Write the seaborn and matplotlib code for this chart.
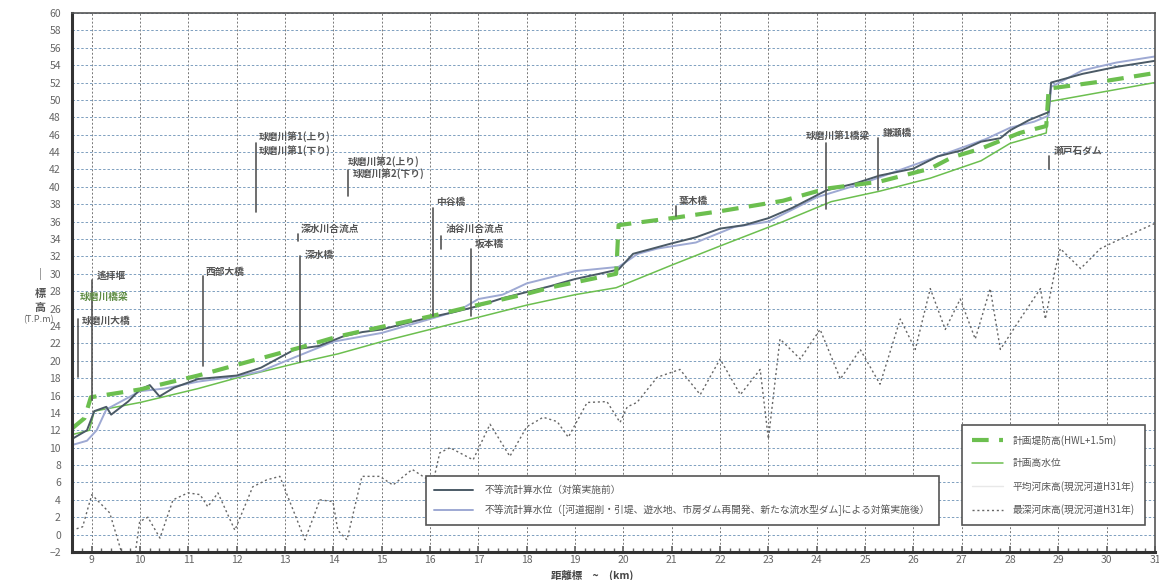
import numpy as np
import pandas as pd
import seaborn as sns
import matplotlib.pyplot as plt
from matplotlib.lines import Line2D
from matplotlib.ticker import MultipleLocator

# 計画堤防高 (HWL+1.5m)
levee_km = [8.59, 8.85, 8.98, 10.0, 11.2, 12.05, 13.3, 14.1, 15.0, 16.0, 16.9, 18.0, 18.55, 19.85,
            19.9, 21.0, 22.0, 23.3, 24.2, 25.3, 26.35, 26.8, 27.4, 28.2, 28.75, 28.8, 30.0, 31.0]
levee_h = [12.2, 13.4, 15.8, 16.7, 18.3, 19.6, 21.5, 22.8, 23.9, 25.1, 26.3, 27.7, 28.5, 30.0,
           35.6, 36.4, 37.2, 38.4, 39.8, 40.6, 42.1, 43.4, 44.4, 46.2, 47.0, 51.3, 52.2, 53.1]

# 計画高水位
hwl_km = [8.59, 8.95, 9.05, 10.0, 11.2, 12.05, 13.3, 14.1, 15.0, 16.0, 17.0, 18.0, 19.0, 19.85,
          21.0, 22.0, 23.3, 24.3, 25.3, 26.35, 27.4, 28.0, 28.75, 28.8, 30.0, 31.0]
hwl_h = [11.5, 12.0, 14.2, 15.2, 16.8, 18.1, 19.8, 20.8, 22.2, 23.6, 25.0, 26.4, 27.6, 28.4,
         31.0, 33.2, 36.0, 38.3, 39.5, 41.0, 43.0, 45.0, 46.2, 49.8, 51.0, 52.0]

# 不等流計算水位（対策実施前）
before_km = [8.59, 8.9, 9.05, 9.3, 9.4, 9.75, 10.0, 10.2, 10.4, 10.7, 11.2, 12.0, 12.5, 13.2, 13.7,
             14.2, 14.6, 15.0, 15.5, 16.0, 16.5, 17.0, 17.5, 18.0, 18.5, 19.0, 19.5, 19.9, 20.2,
             21.0, 21.5, 22.0, 22.5, 23.0, 23.5, 24.2, 24.8, 25.3, 26.0, 26.5, 27.0, 27.4, 27.8,
             28.0, 28.4, 28.8, 28.85, 29.5, 30.2, 31.0]
before_h = [11.0, 12.0, 14.2, 14.7, 13.8, 15.3, 16.7, 17.2, 15.9, 16.9, 17.9, 18.3, 19.2, 21.3, 21.7,
            22.8, 23.3, 23.6, 24.3, 25.0, 25.6, 26.3, 27.2, 27.9, 28.6, 29.4, 30.0, 30.5, 32.3,
            33.5, 34.2, 35.2, 35.6, 36.4, 37.6, 39.6, 40.4, 41.3, 42.1, 43.5, 44.2, 45.2, 45.6,
            46.5, 47.7, 48.6, 52.0, 53.0, 53.8, 54.5]

# 不等流計算水位（対策実施後）
after_km = [8.59, 8.9, 9.1, 9.3, 10.0, 10.5, 11.2, 12.0, 12.5, 13.2, 14.0, 15.0, 16.0, 16.6, 17.0,
            17.5, 18.0, 19.0, 19.9, 20.3, 20.7, 21.5, 22.3, 23.0, 24.0, 25.0, 26.0, 27.0, 27.5,
            28.0, 28.5, 28.8, 28.85, 29.5, 30.2, 31.0]
after_h = [10.3, 10.8, 12.0, 14.4, 16.5, 16.8, 17.6, 18.2, 18.8, 20.4, 22.2, 23.2, 24.8, 25.8, 27.1,
           27.6, 28.9, 30.3, 30.8, 32.3, 32.9, 33.6, 35.4, 36.0, 38.8, 40.5, 42.5, 44.5, 45.5,
           46.8, 47.5, 48.2, 51.5, 53.4, 54.3, 55.0]

# 最深河床高（現況河道H31年）
bed_km = [8.59, 8.81, 9.0, 9.37, 9.64, 9.89, 9.99, 10.16, 10.41, 10.68, 10.99, 11.24, 11.4, 11.61,
          11.96, 12.33, 12.62, 12.89, 13.41, 13.72, 13.99, 14.09, 14.28, 14.59, 14.96, 15.23, 15.63,
          15.85, 16.06, 16.2, 16.41, 16.89, 17.24, 17.65, 18.0, 18.34, 18.63, 18.86, 19.25, 19.66,
          19.93, 20.08, 20.28, 20.7, 21.17, 21.59, 22.0, 22.42, 22.83, 23.0, 23.24, 23.66, 24.07,
          24.49, 24.9, 25.31, 25.73, 26.04, 26.35, 26.66, 26.97, 27.28, 27.59, 27.8, 28.21, 28.63,
          28.73, 28.94, 29.04, 29.46, 29.87, 30.28, 31.0]
bed_h = [0.5, 0.9, 4.6, 2.5, -2.5, -2.5, 1.5, 2.0, -0.4, 4.0, 4.8, 4.6, 3.2, 4.8,
         0.5, 5.5, 6.3, 6.7, -0.6, 4.0, 3.8, 0.5, -0.6, 6.7, 6.7, 5.7, 7.5,
         6.7, 6.0, 9.4, 10.0, 8.6, 12.7, 9.0, 12.4, 13.5, 13.0, 11.2, 15.2, 15.3,
         12.9, 14.7, 15.2, 18.1, 19.0, 16.1, 20.2, 16.1, 19.0, 11.0, 22.5, 20.2, 23.6,
         17.9, 21.3, 17.3, 24.8, 21.3, 28.3, 23.6, 27.1, 22.5, 28.3, 21.3, 24.8, 28.3,
         24.8, 30.6, 32.9, 30.6, 32.9, 34.0, 35.8]

# 地点名: (名前, km, 線の上端, 線の下端, 文字x, 文字y)
sites = [
    ("球磨川大橋", 8.71, 24.8, 18.1, 8.80, 24.6),
    ("遙拝堰", 9.00, 29.3, 15.5, 9.10, 29.8),
    ("西部大橋", 11.30, 29.8, 19.4, 11.36, 30.2),
    ("深水橋", 13.31, 32.0, 19.9, 13.40, 32.2),
    ("深水川合流点", 13.27, 34.6, 33.8, 13.33, 35.2),
    ("球磨川第1(上り)", 12.40, 45.0, 37.1, 12.45, 45.8),
    ("球磨川第1(下り)", 12.40, 45.0, 45.0, 12.45, 44.2),
    ("球磨川第2(上り)", 14.30, 41.9, 38.9, 14.30, 42.9),
    ("球磨川第2(下り)", 14.30, 41.9, 41.9, 14.40, 41.5),
    ("中谷橋", 16.06, 37.6, 25.1, 16.12, 38.3),
    ("油谷川合流点", 16.22, 34.3, 32.9, 16.32, 35.2),
    ("坂本橋", 16.85, 32.9, 25.1, 16.92, 33.5),
    ("葉木橋", 21.09, 37.8, 36.6, 21.15, 38.4),
    ("球磨川第1橋梁", 24.20, 45.0, 37.5, 23.78, 45.9),
    ("鎌瀬橋", 25.27, 45.6, 39.6, 25.37, 46.2),
    ("瀬戸石ダム", 28.81, 43.6, 42.1, 28.90, 44.2),
]

sns.set_theme(style="white")
plt.rcParams['font.family'] = ['Noto Sans CJK JP', 'DejaVu Sans']

fig = plt.figure(figsize=(11.59, 5.8), dpi=100)
ax = fig.add_axes([72 / 1159, 28 / 580, 1083 / 1159, 539 / 580])

green = '#6cbf4f'
dark = '#4b5a66'
light = '#9ea9d3'

sns.lineplot(x=bed_km, y=bed_h, ax=ax, color='#666666', linewidth=1.0, linestyle=(0, (1.5, 2)),
             estimator=None, sort=False)
sns.lineplot(x=hwl_km, y=hwl_h, ax=ax, color=green, linewidth=1.1, estimator=None, sort=False)
sns.lineplot(x=after_km, y=after_h, ax=ax, color=light, linewidth=1.4, estimator=None, sort=False)
sns.lineplot(x=before_km, y=before_h, ax=ax, color=dark, linewidth=1.4, estimator=None, sort=False)
sns.lineplot(x=levee_km, y=levee_h, ax=ax, color=green, linewidth=3.0, linestyle=(0, (4, 2.5)),
             estimator=None, sort=False)

# 地点
for name, km, top, bot, tx, ty in sites:
    if top != bot:
        ax.plot([km, km], [bot, top], color='#555555', linewidth=1.2)
    ax.text(tx, ty, name, fontsize=7, color='#555555', va='center', ha='left', fontweight='bold')
ax.text(8.75, 27.4, "球磨川橋梁", fontsize=7, color='#5f8d45', va='center', ha='left', fontweight='bold')

ax.set_xlim(8.59, 31.0)
ax.set_ylim(-2, 60)
ax.xaxis.set_major_locator(MultipleLocator(1))
ax.xaxis.set_minor_locator(MultipleLocator(0.2))
ax.yaxis.set_major_locator(MultipleLocator(2))
ax.tick_params(axis='y', labelsize=7.5, labelcolor='#666666', length=0, pad=8)
ax.tick_params(axis='x', which='major', labelsize=7.5, labelcolor='#666666', direction='in',
               length=4, color='#666666', bottom=True, pad=2)
ax.tick_params(axis='x', which='minor', direction='in', length=3, color='#666666', bottom=True)
ax.xaxis.grid(True, which='major', color='#777777', linestyle=(0, (2, 2)), linewidth=0.7)
ax.yaxis.grid(True, which='major', color='#7d9fbf', linestyle=(0, (2.5, 2)), linewidth=0.7)
ax.set_xlabel("")
ax.set_ylabel("")
for side in ['left', 'bottom']:
    ax.spines[side].set_linewidth(2.2)
    ax.spines[side].set_color('#333333')
for side in ['top', 'right']:
    ax.spines[side].set_linewidth(1.2)
    ax.spines[side].set_color('#555555')

fig.text(40 / 1159, 1 - 274 / 580, "|", fontsize=7, color='#666666', ha='center', va='center')
fig.text(40 / 1159, 1 - 300 / 580, "標\n高", fontsize=8, color='#555555', ha='center', va='center',
         linespacing=1.1, fontweight='bold')
fig.text(38 / 1159, 1 - 320 / 580, "(T.P.m)", fontsize=6.5, color='#666666', ha='center', va='center')
fig.text(592 / 1159, 1 - 575 / 580, "距離標　~　(km)", fontsize=7.5, color='#444444', ha='center',
         va='center', fontweight='bold')

# 凡例
h1 = [Line2D([], [], color=dark, linewidth=1.4),
      Line2D([], [], color=light, linewidth=1.4)]
l1 = ["不等流計算水位（対策実施前）",
      "不等流計算水位（[河道掘削・引堤、遊水地、市房ダム再開発、新たな流水型ダム]による対策実施後）"]
leg1 = ax.legend(h1, l1, loc='lower left', bbox_to_anchor=(0.322, 0.041), fontsize=7,
                 frameon=True, fancybox=False, edgecolor='#555555', framealpha=1,
                 handlelength=4, borderpad=0.9, labelspacing=1.0, handletextpad=1.2)
leg1.get_frame().set_linewidth(1.2)
for t in leg1.get_texts():
    t.set_color('#555555')
ax.add_artist(leg1)

h2 = [Line2D([], [], color=green, linewidth=3.0, linestyle=(0, (4, 2.5))),
      Line2D([], [], color=green, linewidth=1.1),
      Line2D([], [], color='#e8e8e8', linewidth=1.0),
      Line2D([], [], color='#666666', linewidth=1.0, linestyle=(0, (1.5, 2)))]
l2 = ["計画堤防高(HWL+1.5m)", "計画高水位", "平均河床高(現況河道H31年)", "最深河床高(現況河道H31年)"]
leg2 = ax.legend(h2, l2, loc='lower right', bbox_to_anchor=(0.995, 0.041), fontsize=7,
                 frameon=True, fancybox=False, edgecolor='#555555', framealpha=1,
                 handlelength=3.2, borderpad=1.0, labelspacing=1.3, handletextpad=1.0)
leg2.get_frame().set_linewidth(1.2)
for t in leg2.get_texts():
    t.set_color('#555555')

fig.savefig("out.png", dpi=100)
